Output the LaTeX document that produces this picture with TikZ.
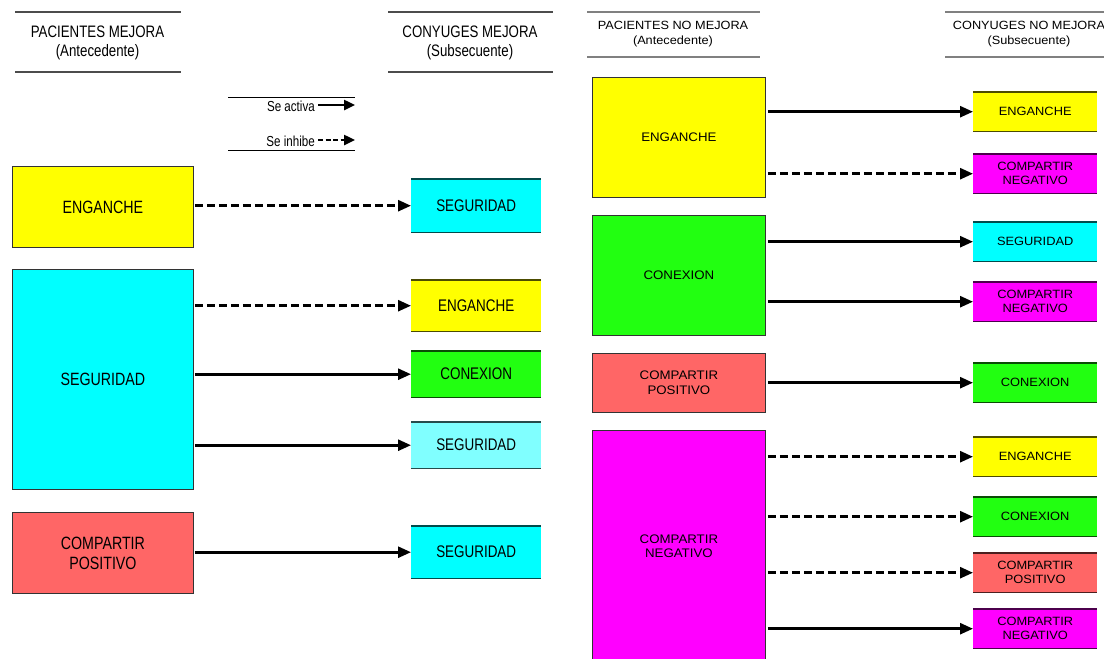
\documentclass[tikz,border=0pt]{standalone}
\usepackage{fontspec}
\setmainfont{Liberation Sans}
\newfontfamily\lfont[FakeStretch=0.8]{Liberation Sans}
\newfontfamily\rfont[FakeStretch=1.07]{Liberation Sans}
\usetikzlibrary{arrows.meta}

\definecolor{cYel}{HTML}{FFFF00}
\definecolor{cCya}{HTML}{00FFFF}
\definecolor{cLCy}{HTML}{80FFFF}
\definecolor{cGrn}{HTML}{22FF11}
\definecolor{cSal}{HTML}{FF6666}
\definecolor{cMag}{HTML}{FF00FF}

\begin{document}
\begin{tikzpicture}[x=1pt,y=-1pt,
  src/.style={draw=black!80, line width=0.8pt, fill=#1, align=center,
    inner sep=0pt, anchor=north west},
  tgt/.style={fill=#1, align=center, inner sep=0pt, anchor=north west,
    append after command={
      (\tikzlastnode.north west) edge[draw=#1!30!black, line width=1.2pt] (\tikzlastnode.north east)
      (\tikzlastnode.south west) edge[draw=#1!30!black, line width=1.2pt] (\tikzlastnode.south east)}},
  lbox/.style={font=\lfont\fontsize{17.8}{20}\selectfont},
  ltxt/.style={font=\lfont\fontsize{16.8}{20}\selectfont},
  rbox/.style={font=\rfont\fontsize{12.4}{14.5}\selectfont},
  rtxt/.style={font=\rfont\fontsize{12}{14}\selectfont},
  lhead/.style={font=\lfont\fontsize{16.6}{19}\selectfont, align=center},
  rhead/.style={font=\rfont\fontsize{11.9}{15}\selectfont, align=center},
  lhline/.style={draw=black!70, line width=1.3pt},
  rhline/.style={draw=black!50, line width=1.5pt},
  act/.style={line width=2.6pt, -{Triangle[length=13pt,width=11pt]}},
  inh/.style={act, dash pattern=on 8pt off 4pt},
]
\clip (0,0) rectangle (1104,659);
\fill[white] (0,0) rectangle (1104,659);

% ---------- left panel: headers ----------
\draw[lhline] (15,12) -- (181,12);
\draw[lhline] (15,72) -- (181,72);
\node[lhead] (hl1) at (97.5,42.5) {PACIENTES MEJORA\\(Antecedente)};
\draw[lhline] (388,12) -- (553,12);
\draw[lhline] (388,72) -- (553,72);
\node[lhead] (hl2) at (470,42.5) {CONYUGES MEJORA\\(Subsecuente)};

% ---------- legend ----------
\draw[draw=black, line width=1pt] (228,97) -- (355,97);
\draw[draw=black, line width=1pt] (228,150) -- (355,150);
\node[anchor=east, font=\lfont\fontsize{14.5}{16}\selectfont, inner sep=0pt] (lga) at (315,106) {Se activa};
\node[anchor=east, font=\lfont\fontsize{14.5}{16}\selectfont, inner sep=0pt] (lgi) at (315,141) {Se inhibe};
\coordinate (lgae) at (355,105);
\coordinate (lgie) at (355,140);
\draw[act, line width=2.4pt, -{Triangle[length=11pt,width=10pt]}] ([xshift=3pt]lga.east |- lgae) -- (lgae);
\draw[act, line width=2.4pt, dash pattern=on 5pt off 2.5pt, -{Triangle[length=11pt,width=10pt]}] ([xshift=3pt]lgi.east |- lgie) -- (lgie);

% ---------- left panel: antecedents ----------
\node[src=cYel, lbox, minimum width=181, minimum height=81] (ls1) at (12,166) {ENGANCHE};
\node[src=cCya, lbox, minimum width=181, minimum height=220] (ls2) at (12,269) {SEGURIDAD};
\node[src=cSal, lbox, minimum width=181, minimum height=81] (ls3) at (12,512) {COMPARTIR\\POSITIVO};

% ---------- left panel: consequents ----------
\node[tgt=cCya, ltxt, minimum width=130, minimum height=53] (lt1) at (411,179) {SEGURIDAD};
\node[tgt=cYel, ltxt, minimum width=130, minimum height=51] (lt2) at (411,280) {ENGANCHE};
\node[tgt=cGrn, ltxt, minimum width=130, minimum height=46] (lt3) at (411,351) {CONEXION};
\node[tgt=cLCy, ltxt, minimum width=130, minimum height=46] (lt4) at (411,422) {SEGURIDAD};
\node[tgt=cCya, ltxt, minimum width=130, minimum height=52] (lt5) at (411,526) {SEGURIDAD};

\draw[inh] ([xshift=1pt]ls1.east |- lt1.west) -- (lt1.west);
\draw[inh] ([xshift=1pt]ls2.east |- lt2.west) -- (lt2.west);
\draw[act] ([xshift=1pt]ls2.east |- lt3.west) -- (lt3.west);
\draw[act] ([xshift=1pt]ls2.east |- lt4.west) -- (lt4.west);
\draw[act] ([xshift=1pt]ls3.east |- lt5.west) -- (lt5.west);

% ---------- right panel: headers ----------
\draw[rhline] (587,12) -- (760,12);
\draw[rhline] (587,57) -- (760,57);
\node[rhead] (hr1) at (673,34.5) {PACIENTES NO MEJORA\\(Antecedente)};
\draw[rhline] (945,12) -- (1104,12);
\draw[rhline] (945,57) -- (1104,57);
\node[rhead] (hr2) at (1029,34.5) {CONYUGES NO MEJORA\\(Subsecuente)};

% ---------- right panel: antecedents ----------
\node[src=cYel, rbox, minimum width=173, minimum height=120] (rs1) at (592,77) {ENGANCHE};
\node[src=cGrn, rbox, minimum width=173, minimum height=120] (rs2) at (592,215) {CONEXION};
\node[src=cSal, rbox, minimum width=173, minimum height=59] (rs3) at (592,353) {COMPARTIR\\POSITIVO};
\node[src=cMag, rbox, minimum width=173, minimum height=232] (rs4) at (592,430) {COMPARTIR\\NEGATIVO};

% ---------- right panel: consequents ----------
\node[tgt=cYel, rtxt, minimum width=124, minimum height=39] (rt1) at (973,92) {ENGANCHE};
\node[tgt=cMag, rtxt, minimum width=124, minimum height=39] (rt2) at (973,154) {COMPARTIR\\NEGATIVO};
\node[tgt=cCya, rtxt, minimum width=124, minimum height=39] (rt3) at (973,222) {SEGURIDAD};
\node[tgt=cMag, rtxt, minimum width=124, minimum height=39] (rt4) at (973,282) {COMPARTIR\\NEGATIVO};
\node[tgt=cGrn, rtxt, minimum width=124, minimum height=39] (rt5) at (973,363) {CONEXION};
\node[tgt=cYel, rtxt, minimum width=124, minimum height=39] (rt6) at (973,437) {ENGANCHE};
\node[tgt=cGrn, rtxt, minimum width=124, minimum height=39] (rt7) at (973,497) {CONEXION};
\node[tgt=cSal, rtxt, minimum width=124, minimum height=39] (rt8) at (973,553) {COMPARTIR\\POSITIVO};
\node[tgt=cMag, rtxt, minimum width=124, minimum height=39] (rt9) at (973,609) {COMPARTIR\\NEGATIVO};

\draw[act] ([xshift=2pt]rs1.east |- rt1.west) -- (rt1.west);
\draw[inh] ([xshift=2pt]rs1.east |- rt2.west) -- (rt2.west);
\draw[act] ([xshift=2pt]rs2.east |- rt3.west) -- (rt3.west);
\draw[act] ([xshift=2pt]rs2.east |- rt4.west) -- (rt4.west);
\draw[act] ([xshift=2pt]rs3.east |- rt5.west) -- (rt5.west);
\draw[inh] ([xshift=2pt]rs4.east |- rt6.west) -- (rt6.west);
\draw[inh] ([xshift=2pt]rs4.east |- rt7.west) -- (rt7.west);
\draw[inh] ([xshift=2pt]rs4.east |- rt8.west) -- (rt8.west);
\draw[act] ([xshift=2pt]rs4.east |- rt9.west) -- (rt9.west);
\end{tikzpicture}
\end{document}
